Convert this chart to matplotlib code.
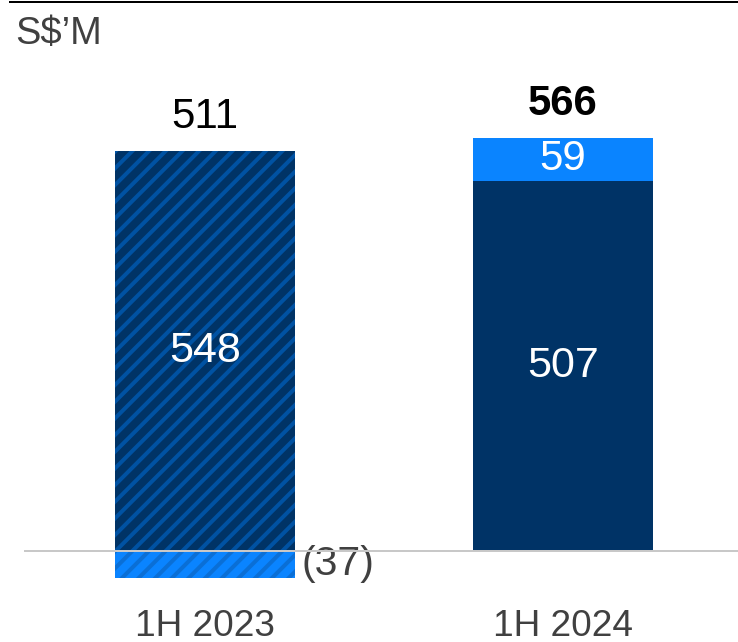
import matplotlib.pyplot as plt

DPI = 100
PT = 72 / DPI  # points per pixel

plt.rcParams['font.family'] = ['Liberation Sans', 'DejaVu Sans']
plt.rcParams['hatch.linewidth'] = 4.0 * PT

# data
periods = ["1H 2023", "1H 2024"]
core = [548, 507]
other = [-37, 59]
totals = [511, 566]
hatched = [True, False]

dark = "#003366"
dark_stripe = "#0052a3"
bright = "#0a84ff"
bright_stripe = "#0a6fd6"

fig = plt.figure(figsize=(738 / DPI, 642 / DPI), dpi=DPI)
ax = fig.add_axes([0, 0, 1, 1])
ax.set_xlim(-0.5726, 1.4888)
ax.set_ylim(-124.7, 754.8)
ax.axis("off")

x = list(range(len(periods)))
w = 0.503
for i in x:
    h = '//' if hatched[i] else None
    ax.bar(i, core[i], width=w, color=dark, edgecolor=dark_stripe if h else dark,
           linewidth=0, hatch=h, zorder=2)
    base = core[i] if other[i] > 0 else 0
    ax.bar(i, other[i], bottom=base, width=w, color=bright,
           edgecolor=bright_stripe if h else bright, linewidth=0, hatch=h, zorder=2)

    ax.text(i, core[i] / 2, str(core[i]), ha="center", va="center",
            color="white", fontsize=43 * PT, zorder=3)
    top = core[i] + max(other[i], 0)
    ax.annotate(str(totals[i]), (i, top), xytext=(0, 34 * PT), textcoords="offset points",
                ha="center", va="center", fontsize=42 * PT, color="black",
                fontweight="bold" if i == 1 else "normal")
    if other[i] > 0:
        ax.text(i, core[i] + other[i] / 2, str(other[i]), ha="center", va="center",
                color="white", fontsize=42 * PT, zorder=3)
    else:
        ax.annotate("(%d)" % abs(other[i]), (i + w / 2, other[i] / 2), xytext=(6 * PT, 0),
                    textcoords="offset points", ha="left", va="center",
                    fontsize=41 * PT, color="#404040")
    ax.annotate(periods[i], (i, 0), xytext=(0, -76 * PT), textcoords="offset points",
                ha="center", va="center", fontsize=37 * PT, color="#404040")

# baseline and top rule
ax.plot([25 / 738, 1], [91 / 642, 91 / 642], transform=fig.transFigure,
        color="#c8c8c8", lw=2 * PT, zorder=4)
ax.plot([10 / 738, 1], [1 - 2 / 642, 1 - 2 / 642], transform=fig.transFigure,
        color="black", lw=2 * PT)
fig.text(15 / 738, 1 - 34 / 642, "S$\u2019M", ha="left", va="center",
         fontsize=38 * PT, color="#404040")

fig.savefig("out.png", dpi=DPI)
